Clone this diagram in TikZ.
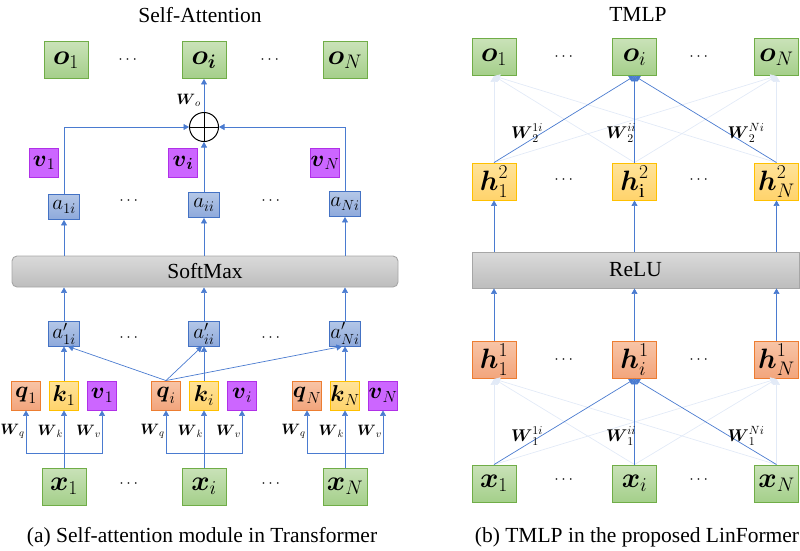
\RequirePackage{fix-cm}
\documentclass[tikz,border=0pt]{standalone}
\usepackage{amsmath}
\usepackage{fontspec}
\setmainfont{Liberation Serif}
\usetikzlibrary{arrows.meta}

\definecolor{grnT}{HTML}{C9E2B8}
\definecolor{grnB}{HTML}{A4CF8A}
\definecolor{grnE}{HTML}{70AD47}
\definecolor{orgT}{HTML}{F8C4A6}
\definecolor{orgB}{HTML}{F2A57C}
\definecolor{orgE}{HTML}{ED7D31}
\definecolor{ylwT}{HTML}{FFE39A}
\definecolor{ylwB}{HTML}{FFD36B}
\definecolor{ylwE}{HTML}{FFC000}
\definecolor{vioF}{HTML}{CC66FF}
\definecolor{vioE}{HTML}{B030E8}
\definecolor{bluT}{HTML}{B4C7E7}
\definecolor{bluB}{HTML}{8EA9DB}
\definecolor{bluE}{HTML}{4472C4}
\definecolor{gryT}{HTML}{DADADA}
\definecolor{gryB}{HTML}{BDBDBD}
\definecolor{gryE}{HTML}{A6A6A6}
\definecolor{lnB}{HTML}{4A7BD0}

\tikzset{
  x=1pt, y=-1pt,
  box/.style={draw, line width=0.9pt, inner sep=0pt, anchor=center},
  grn/.style={box, draw=grnE, top color=grnT, bottom color=grnB,
    minimum width=44pt, minimum height=37pt, font=\fontsize{28}{28}\selectfont},
  org/.style={box, draw=orgE, top color=orgT, bottom color=orgB,
    minimum width=44pt, minimum height=37pt, font=\fontsize{28}{28}\selectfont},
  ylw/.style={box, draw=ylwE, top color=ylwT, bottom color=ylwB,
    minimum width=44pt, minimum height=37pt, font=\fontsize{28}{28}\selectfont},
  qb/.style={box, draw=orgE, top color=orgT, bottom color=orgB,
    minimum width=29pt, minimum height=29pt, font=\fontsize{23}{23}\selectfont},
  kb/.style={box, draw=ylwE, top color=ylwT, bottom color=ylwB,
    minimum width=29pt, minimum height=29pt, font=\fontsize{23}{23}\selectfont},
  vb/.style={box, draw=vioE, fill=vioF,
    minimum width=29pt, minimum height=29pt, font=\fontsize{23}{23}\selectfont},
  ab/.style={box, draw=bluE, top color=bluT, bottom color=bluB,
    minimum width=31pt, minimum height=25pt, font=\fontsize{21}{21}\selectfont},
  bar/.style={draw=gryE, line width=0.9pt, top color=gryT, bottom color=gryB},
  dotsn/.style={font=\fontsize{16}{16}\selectfont, inner sep=0pt},
  wlab/.style={font=\fontsize{15}{15}\selectfont, inner sep=0pt},
  wlabb/.style={font=\fontsize{17}{17}\selectfont, inner sep=0pt},
  ttl/.style={font=\fontsize{21.5}{21.5}\selectfont, inner sep=0pt},
  ln/.style={draw=lnB, line width=0.7pt},
  arr/.style={ln, -{Triangle[width=6pt,length=5.5pt]}},
  fnt/.style={draw=lnB!16, line width=0.7pt, -{Triangle[width=7pt,length=6pt]}},
}

\begin{document}
\begin{tikzpicture}
\useasboundingbox (0,0) rectangle (800,550);

% ---------------- (a) self-attention ----------------
\node[ttl] (tA) at (200,15) {Self-Attention};

\node[grn] (o1) at (66,60) {$\boldsymbol{o}_1$};
\node[grn] (oi) at (204,60) {$\boldsymbol{o}_{\boldsymbol{i}}$};
\node[grn] (oN) at (345,60) {$\boldsymbol{o}_{N}$};
\node[dotsn] (d1) at (129,60) {$\cdots$};
\node[dotsn] (d2) at (271,60) {$\cdots$};

\node[draw, circle, line width=1pt, minimum size=29pt, inner sep=0pt, fill=white] (plus) at (204,127) {};
\draw[line width=1pt] (plus.north) -- (plus.south) (plus.west) -- (plus.east);

\node[vb] (v1t) at (44,163) {$\boldsymbol{v}_1$};
\node[vb] (vit) at (183,163) {$\boldsymbol{v}_{\boldsymbol{i}}$};
\node[vb] (vNt) at (325,163) {$\boldsymbol{v}_{N}$};

\node[ab] (a1) at (64,207) {$a_{1i}$};
\node[ab] (ai) at (204,205) {$a_{ii}$};
\node[ab] (aN) at (345,204) {$a_{Ni}$};
\node[dotsn] (d3) at (130,201) {$\cdots$};
\node[dotsn] (d4) at (272,201) {$\cdots$};

\node[bar, rounded corners=5pt, minimum width=386pt, minimum height=31pt, inner sep=0pt,
      font=\fontsize{21.5}{21.5}\selectfont] (sm) at (205,271.5) {SoftMax};

\node[ab] (p1) at (64,333.5) {$a'_{1i}$};
\node[ab] (pi) at (204,333.5) {$a'_{ii}$};
\node[ab] (pN) at (345,333.5) {$a'_{Ni}$};
\node[dotsn] (d5) at (130,338) {$\cdots$};
\node[dotsn] (d6) at (272,338) {$\cdots$};

\node[qb] (q1) at (26,395.5) {$\boldsymbol{q}_1$};
\node[kb] (k1) at (64,395.5) {$\boldsymbol{k}_1$};
\node[vb] (v1) at (102,395.5) {$\boldsymbol{v}_1$};
\node[qb] (qi) at (166,395.5) {$\boldsymbol{q}_{i}$};
\node[kb] (ki) at (204,395.5) {$\boldsymbol{k}_{i}$};
\node[vb] (vi) at (242,395.5) {$\boldsymbol{v}_{i}$};
\node[qb] (qN) at (307,395.5) {$\boldsymbol{q}_{N}$};
\node[kb] (kN) at (345,395.5) {$\boldsymbol{k}_{N}$};
\node[vb] (vN) at (383,395.5) {$\boldsymbol{v}_{N}$};

\node[grn] (x1) at (64,486.5) {$\boldsymbol{x}_1$};
\node[grn] (xi) at (204,486.5) {$\boldsymbol{x}_{i}$};
\node[grn] (xN) at (345,486.5) {$\boldsymbol{x}_{N}$};
\node[dotsn] (d7) at (130,484) {$\cdots$};
\node[dotsn] (d8) at (272,484) {$\cdots$};

% input projections W_q, W_k, W_v
\foreach \xx/\q/\k/\v in {x1/q1/k1/v1, xi/qi/ki/vi, xN/qN/kN/vN}{
  \coordinate (b\xx) at (\xx.north |- 0,453);
  \draw[ln] (\xx.north) -- (b\xx);
  \draw[arr] (b\xx) -| (\q.south);
  \draw[arr] (b\xx) -| (\v.south);
  \draw[arr] (b\xx) -- (\k.south);
  \node[wlab, anchor=east] at ([xshift=-1pt]\q.south |- 0,431) {$\boldsymbol{W}_{q}$};
  \node[wlab, anchor=east] at ([xshift=-1pt]\k.south |- 0,431) {$\boldsymbol{W}_{k}$};
  \node[wlab, anchor=east] at ([xshift=-1pt]\v.south |- 0,431) {$\boldsymbol{W}_{v}$};
}

% scores
\draw[arr] (k1.north) -- (p1.south);
\draw[arr] (ki.north) -- (pi.south);
\draw[arr] (kN.north) -- (pN.south);
\draw[arr] (qi.north) -- ([xshift=4pt]p1.south);
\draw[arr] (qi.north) -- ([xshift=-2pt]pi.south);
\draw[arr] (qi.north) -- ([xshift=-3pt]pN.south);

% softmax
\draw[arr] (p1.north) -- (p1.north |- sm.south);
\draw[arr] (pi.north) -- (pi.north |- sm.south);
\draw[arr] (pN.north) -- (pN.north |- sm.south);
\draw[arr] (a1.south |- sm.north) -- (a1.south);
\draw[arr] (ai.south |- sm.north) -- (ai.south);
\draw[arr] (aN.south |- sm.north) -- (aN.south);

% weighted sum
\draw[arr] (a1.north) |- (plus.west);
\draw[arr] (aN.north) |- (plus.east);
\draw[arr] (ai.north) -- (plus.south);
\draw[arr] (plus.north) -- (oi.south);
\node[wlab, anchor=east] at (201,100) {$\boldsymbol{W}_{o}$};

\node[ttl] (cA) at (202,537) {(a) Self-attention module in Transformer};

% ---------------- (b) TMLP ----------------
\node[ttl] (tB) at (638,14) {TMLP};

\node[grn] (bo1) at (494,57) {$\boldsymbol{o}_1$};
\node[grn] (boi) at (634.5,57) {$\boldsymbol{o}_{i}$};
\node[grn] (boN) at (776.5,57) {$\boldsymbol{o}_{N}$};
\node[dotsn] (e1) at (565,57) {$\cdots$};
\node[dotsn] (e2) at (700,57) {$\cdots$};

\node[ylw] (h21) at (494,181.5) {$\boldsymbol{h}^{2}_{1}$};
\node[ylw] (h2i) at (634.5,181.5) {$\boldsymbol{h}^{2}_{\mathrm{i}}$};
\node[ylw] (h2N) at (776.5,181.5) {$\boldsymbol{h}^{2}_{N}$};
\node[dotsn] (e3) at (565,180) {$\cdots$};
\node[dotsn] (e4) at (700,180) {$\cdots$};

\node[bar, minimum width=327pt, minimum height=36pt, inner sep=0pt,
      font=\fontsize{21.5}{21.5}\selectfont] (relu) at (635.5,270) {ReLU};

\node[org] (h11) at (494,360) {$\boldsymbol{h}^{1}_{1}$};
\node[org] (h1i) at (634.5,360) {$\boldsymbol{h}^{1}_{i}$};
\node[org] (h1N) at (776.5,360) {$\boldsymbol{h}^{1}_{N}$};
\node[dotsn] (e5) at (565,360) {$\cdots$};
\node[dotsn] (e6) at (700,360) {$\cdots$};

\node[grn] (bx1) at (494,483.5) {$\boldsymbol{x}_1$};
\node[grn] (bxi) at (634.5,483.5) {$\boldsymbol{x}_{i}$};
\node[grn] (bxN) at (776.5,483.5) {$\boldsymbol{x}_{N}$};
\node[dotsn] (e7) at (565,480) {$\cdots$};
\node[dotsn] (e8) at (700,480) {$\cdots$};

% faint dense connections
\foreach \s in {h21,h2i,h2N}{
  \draw[fnt] (\s.north) -- (bo1.south);
  \draw[fnt] (\s.north) -- (boN.south);
}
\foreach \s in {bx1,bxi,bxN}{
  \draw[fnt] (\s.north) -- (h11.south);
  \draw[fnt] (\s.north) -- (h1N.south);
}
% highlighted connections into the i-th token
\foreach \s in {h21,h2i,h2N}{ \draw[arr] (\s.north) -- (boi.south); }
\foreach \s in {bx1,bxi,bxN}{ \draw[arr] (\s.north) -- (h1i.south); }

\node[wlabb] at (527,133) {$\boldsymbol{W}^{1i}_{2}$};
\node[wlabb] at (621,133) {$\boldsymbol{W}^{ii}_{2}$};
\node[wlabb] at (746,133) {$\boldsymbol{W}^{Ni}_{2}$};
\node[wlabb] at (527,436) {$\boldsymbol{W}^{1i}_{1}$};
\node[wlabb] at (621,436) {$\boldsymbol{W}^{ii}_{1}$};
\node[wlabb] at (746,436) {$\boldsymbol{W}^{Ni}_{1}$};

% ReLU
\draw[arr] (h11.north) -- (h11.north |- relu.south);
\draw[arr] (h1i.north) -- (h1i.north |- relu.south);
\draw[arr] (h1N.north) -- (h1N.north |- relu.south);
\draw[arr] (h21.south |- relu.north) -- (h21.south);
\draw[arr] (h2i.south |- relu.north) -- (h2i.south);
\draw[arr] (h2N.south |- relu.north) -- (h2N.south);

\node[ttl] (cB) at (637,537) {(b) TMLP in the proposed LinFormer};
\end{tikzpicture}
\end{document}
